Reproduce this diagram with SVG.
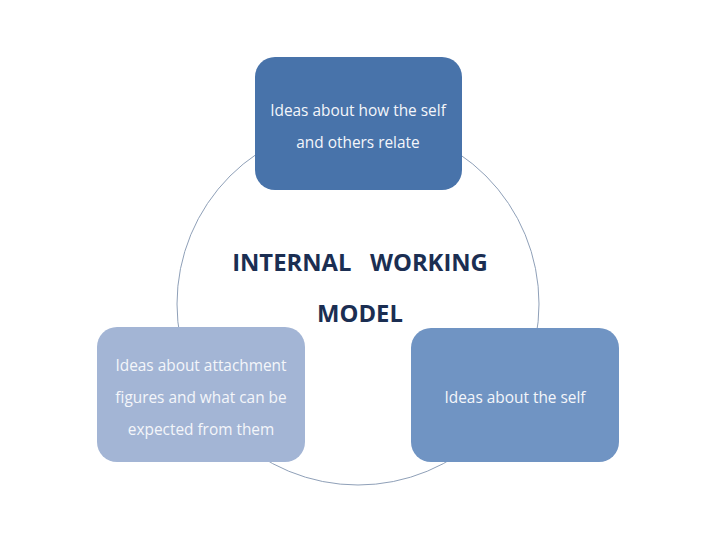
<svg xmlns="http://www.w3.org/2000/svg" width="720" height="540" viewBox="0 0 720 540">
<style>
.lbl{font-family:"Open Sans","Liberation Sans",sans-serif;font-size:15.4px;fill:#f4f6fa;text-anchor:middle}
.ttl{font-family:"Open Sans","Liberation Sans",sans-serif;font-size:23.8px;font-weight:bold;fill:#1b2e52;text-anchor:middle}
</style>
<rect width="720" height="540" fill="#ffffff"/>
<g id="connectors">
<circle cx="358" cy="304" r="181" fill="none" stroke="#8fa0b8" stroke-width="1"/>
</g>
<g id="top">
<rect x="255" y="57" width="207" height="133" rx="20" fill="#4873aa"/>
<text class="lbl" x="358" y="116">Ideas about how the self</text>
<text class="lbl" x="358" y="148">and others relate</text>
</g>
<g id="left">
<rect x="97" y="327" width="208" height="135" rx="20" fill="#a3b5d5"/>
<text class="lbl" x="201" y="371">Ideas about attachment</text>
<text class="lbl" x="201" y="403">figures and what can be</text>
<text class="lbl" x="201" y="435">expected from them</text>
</g>
<g id="right">
<rect x="411" y="328" width="208" height="134" rx="20" fill="#7094c3"/>
<text class="lbl" x="515" y="403">Ideas about the self</text>
</g>
<g id="center">
<text class="ttl" x="360" y="271" xml:space="preserve">INTERNAL   WORKING</text>
<text class="ttl" x="360" y="322">MODEL</text>
</g>
</svg>
